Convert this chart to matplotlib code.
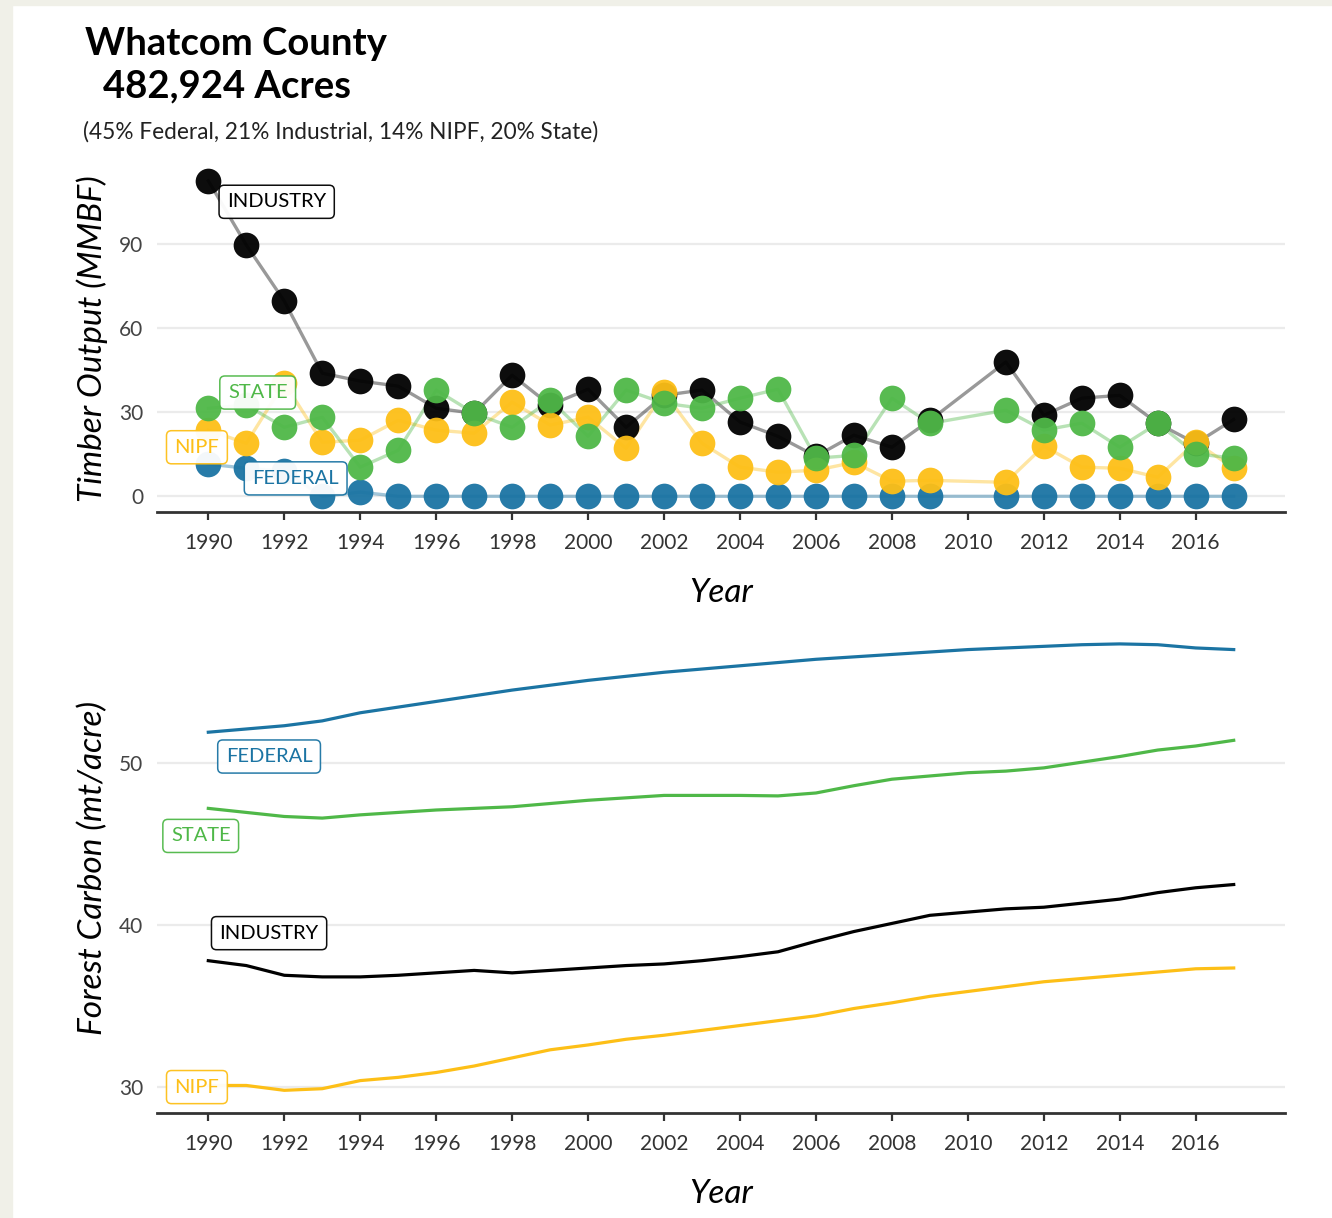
import matplotlib
matplotlib.use('Agg')
import matplotlib.pyplot as plt
from matplotlib.patches import Rectangle

plt.rcParams['font.family'] = ['Lato', 'DejaVu Sans']

# timber output (MMBF); no survey in 2010
timber_years = list(range(1990, 2010)) + list(range(2011, 2018))
timber_federal = [11.5, 10, 9, 0, 1.5, 0, 0, 0, 0, 0, 0, 0, 0, 0, 0, 0, 0, 0, 0, 0,
                  0, 0, 0, 0, 0, 0, 0]
timber_industry = [112.5, 89.6, 69.6, 43.9, 41.1, 39.3, 31.4, 29.6, 43.2, 32.5, 38.2, 24.6,
                   36, 37.9, 26.5, 21.4, 14.3, 21.8, 17.5, 27.1, 47.9, 28.9, 35, 36, 26, 18.9, 27.4]
timber_nipf = [23.6, 18.9, 40.5, 19.3, 20, 27.1, 23.6, 22.5, 33.6, 25.4, 28.2, 17.1, 37.1,
               18.9, 10.4, 8.6, 9.3, 12.1, 5.4, 5.7, 5, 17.9, 10.4, 10, 6.8, 19.3, 10]
timber_state = [31.4, 32.5, 24.6, 28.2, 10.4, 16.4, 37.9, 29.6, 24.6, 34.3, 21.4, 37.9, 33.2,
                31.4, 35, 38.2, 13.6, 14.6, 35, 26, 30.7, 23.6, 26.1, 17.5, 26, 15.2, 13.6]

# forest carbon (mt/acre)
carbon_years = list(range(1990, 2018))
carbon_federal = [51.9, 52.1, 52.3, 52.6, 53.1, 53.45, 53.8, 54.15, 54.5, 54.8, 55.1, 55.35,
                  55.6, 55.8, 56.0, 56.2, 56.4, 56.55, 56.7, 56.85, 57.0, 57.1, 57.2, 57.3,
                  57.35, 57.3, 57.1, 57.0]
carbon_industry = [37.8, 37.5, 36.9, 36.8, 36.8, 36.9, 37.05, 37.2, 37.05, 37.2, 37.35, 37.5,
                   37.6, 37.8, 38.05, 38.35, 39.0, 39.6, 40.1, 40.6, 40.8, 41.0, 41.1, 41.35,
                   41.6, 42.0, 42.3, 42.5]
carbon_nipf = [30.1, 30.1, 29.8, 29.9, 30.4, 30.6, 30.9, 31.3, 31.8, 32.3, 32.6, 32.95, 33.2,
               33.5, 33.8, 34.1, 34.4, 34.85, 35.2, 35.6, 35.9, 36.2, 36.5, 36.7, 36.9, 37.1,
               37.3, 37.35]
carbon_state = [47.2, 46.95, 46.7, 46.6, 46.8, 46.95, 47.1, 47.2, 47.3, 47.5, 47.7, 47.85,
                48.0, 48.0, 48.0, 47.97, 48.15, 48.6, 49.0, 49.2, 49.4, 49.5, 49.7, 50.05,
                50.4, 50.8, 51.05, 51.4]

owners = ['FEDERAL', 'INDUSTRY', 'NIPF', 'STATE']
colors = {'FEDERAL': '#1b74a3', 'INDUSTRY': '#000000', 'NIPF': '#fdbf17', 'STATE': '#4fb848'}

timber = {'FEDERAL': timber_federal, 'INDUSTRY': timber_industry,
          'NIPF': timber_nipf, 'STATE': timber_state}
carbon = {'FEDERAL': carbon_federal, 'INDUSTRY': carbon_industry,
          'NIPF': carbon_nipf, 'STATE': carbon_state}

# label anchors (repelled labels)
timber_labels = {'INDUSTRY': (1991.8, 105), 'STATE': (1991.3, 37),
                 'NIPF': (1989.7, 17.5), 'FEDERAL': (1992.3, 6.4)}
carbon_labels = {'FEDERAL': (1991.6, 50.4), 'STATE': (1989.8, 45.5),
                 'INDUSTRY': (1991.6, 39.5), 'NIPF': (1989.7, 30.0)}


def style_axis(ax, yticks):
    for s in ['top', 'right', 'left']:
        ax.spines[s].set_visible(False)
    ax.spines['bottom'].set_color('#333333')
    ax.spines['bottom'].set_linewidth(2)
    ax.set_xlim(1988.65, 2018.35)
    ax.set_xticks(range(1990, 2018, 2))
    ax.set_yticks(yticks)
    ax.tick_params(axis='x', length=6, width=1.6, color='#333333', labelsize=15,
                   labelcolor='#333333', pad=9)
    ax.tick_params(axis='y', length=0, labelsize=15, labelcolor='#444444', pad=10)
    ax.grid(axis='y', color='#ebebeb', linewidth=1.6)
    ax.set_axisbelow(True)
    ax.set_xlabel('Year', fontsize=24, style='italic', labelpad=18)


def add_label(ax, name, pos):
    ax.text(pos[0], pos[1], name, color=colors[name], fontsize=14.5,
            ha='center', va='center', zorder=6,
            bbox=dict(boxstyle='round,pad=0.4,rounding_size=0.25', fc='white',
                      ec=colors[name], lw=1.1, alpha=0.95))


fig = plt.figure(figsize=(13.32, 12.18), dpi=100)
fig.patch.set_facecolor('white')
fig.patches.append(Rectangle((0, 1 - 5 / 1218), 1, 5 / 1218, transform=fig.transFigure,
                             color='#f0f0e8', zorder=0))
fig.patches.append(Rectangle((0, 0), 12 / 1332, 1, transform=fig.transFigure,
                             color='#f0f0e8', zorder=0))

ax1 = fig.add_axes([0.1179, 0.5796, 0.8468, 0.2849])
ax2 = fig.add_axes([0.1179, 0.0862, 0.8468, 0.4031])

for name in owners:
    ax1.plot(timber_years, timber[name], color=colors[name], linewidth=2.4, alpha=0.4,
             zorder=2)
for name in owners:
    ax1.plot(timber_years, timber[name], 'o', color=colors[name], markersize=18.5,
             markeredgewidth=0, alpha=0.95, zorder=3)
for name in owners:
    add_label(ax1, name, timber_labels[name])

style_axis(ax1, [0, 30, 60, 90])
ax1.set_ylim(-5.6, 118.1)
ax1.set_ylabel('Timber Output (MMBF)', fontsize=24, style='italic', labelpad=8)

for name in owners:
    ax2.plot(carbon_years, carbon[name], color=colors[name], linewidth=2.3, zorder=3)
for name in owners:
    add_label(ax2, name, carbon_labels[name])

style_axis(ax2, [30, 40, 50])
ax2.set_ylim(28.4, 58.7)
ax2.set_ylabel('Forest Carbon (mt/acre)', fontsize=24, style='italic', labelpad=8)

fig.text(85 / 1332, 1 - 55 / 1218, 'Whatcom County', fontsize=27.5, fontweight='bold',
         va='baseline', ha='left')
fig.text(103 / 1332, 1 - 97 / 1218, '482,924 Acres', fontsize=27.5, fontweight='bold',
         va='baseline', ha='left')
fig.text(83 / 1332, 1 - 139 / 1218, '(45% Federal, 21% Industrial, 14% NIPF, 20% State)',
         fontsize=16.3, va='baseline', ha='left', color='#222222')

plt.savefig('out.png', dpi=100)
